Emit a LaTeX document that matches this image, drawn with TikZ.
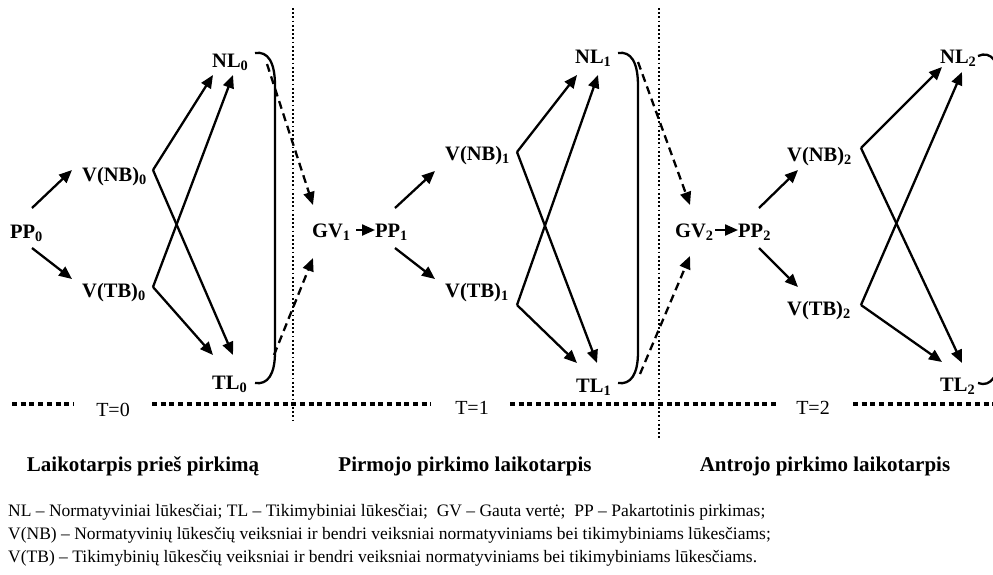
\documentclass[tikz,border=0pt]{standalone}
\usepackage{fontspec}
\setmainfont{Liberation Serif}
\usetikzlibrary{arrows.meta}
\begin{document}
\begin{tikzpicture}[x=1pt,y=-1pt,
  lbl/.style={font=\fontsize{20.5}{24}\selectfont\bfseries, inner sep=0pt, anchor=base west},
  tlbl/.style={font=\fontsize{20}{24}\selectfont, inner sep=0pt, anchor=base},
  captxt/.style={font=\fontsize{21}{25}\selectfont\bfseries, inner sep=0pt, anchor=base},
  leg/.style={font=\fontsize{17.5}{21}\selectfont, inner sep=0pt, anchor=base west},
  arr/.style={line width=2.3pt, -{Triangle[length=13pt,width=11pt]}},
  darr/.style={line width=2.3pt, dash pattern=on 8pt off 5pt, -{Triangle[length=13pt,width=11pt]}},
  brk/.style={line width=2.3pt},
  vdot/.style={line width=1.8pt, dash pattern=on 1.8pt off 2.4pt},
  hdot/.style={line width=4.3pt, dash pattern=on 5pt off 3.7pt},
]
\useasboundingbox (0,0) rectangle (993,574);
\fill[white] (0,0) rectangle (993,574);

% ---- labels
\node[lbl] (pp0)  at (10,238)  {PP\textsubscript{0}};
\node[lbl] (vnb0) at (82,181)  {V(NB)\textsubscript{0}};
\node[lbl] (vtb0) at (82,297)  {V(TB)\textsubscript{0}};
\node[lbl] (nl0)  at (212,67)  {NL\textsubscript{0}};
\node[lbl] (tl0)  at (212,389) {TL\textsubscript{0}};

\node[lbl] (gv1)  at (312,237) {GV\textsubscript{1}};
\node[lbl] (pp1)  at (375,237) {PP\textsubscript{1}};
\node[lbl] (vnb1) at (445,160) {V(NB)\textsubscript{1}};
\node[lbl] (vtb1) at (445,297) {V(TB)\textsubscript{1}};
\node[lbl] (nl1)  at (575,63)  {NL\textsubscript{1}};
\node[lbl] (tl1)  at (576,392) {TL\textsubscript{1}};

\node[lbl] (gv2)  at (675,237) {GV\textsubscript{2}};
\node[lbl] (pp2)  at (738,237) {PP\textsubscript{2}};
\node[lbl] (vnb2) at (787,161) {V(NB)\textsubscript{2}};
\node[lbl] (vtb2) at (787,315) {V(TB)\textsubscript{2}};
\node[lbl] (nl2)  at (940,63)  {NL\textsubscript{2}};
\node[lbl] (tl2)  at (940,391) {TL\textsubscript{2}};

% ---- connector end points
\coordinate (pp0a) at (32,208);  \coordinate (vnb0in) at (72,170);
\coordinate (pp0b) at (32,248);  \coordinate (vtb0in) at (72,279);
\coordinate (vnb0o) at (153,170); \coordinate (vtb0o) at (153,287);
\coordinate (nl0a) at (213,75);  \coordinate (nl0b) at (233,75);
\coordinate (tl0a) at (213,355); \coordinate (tl0b) at (233,355);

\coordinate (gv1o) at (356,230); \coordinate (pp1in) at (375,230);
\coordinate (pp1a) at (395,208); \coordinate (vnb1in) at (435,171);
\coordinate (pp1b) at (395,248); \coordinate (vtb1in) at (435,279);
\coordinate (vnb1o) at (517,152); \coordinate (vtb1o) at (517,305);
\coordinate (nl1a) at (577,75);  \coordinate (nl1b) at (598,75);
\coordinate (tl1a) at (577,363); \coordinate (tl1b) at (597,363);

\coordinate (gv2o) at (715,230); \coordinate (pp2in) at (738,230);
\coordinate (pp2a) at (759,208); \coordinate (vnb2in) at (798,170);
\coordinate (pp2b) at (759,248); \coordinate (vtb2in) at (798,287);
\coordinate (vnb2o) at (861,148); \coordinate (vtb2o) at (861,305);
\coordinate (nl2a) at (942,67);  \coordinate (nl2b) at (962,72);
\coordinate (tl2a) at (942,362); \coordinate (tl2b) at (962,363);

\coordinate (gv1t) at (313,205); \coordinate (gv1b) at (313,258);
\coordinate (gv2t) at (690,205); \coordinate (gv2b) at (690,256);
\coordinate (b0t) at (267,64);   \coordinate (b0b) at (274,355);
\coordinate (b1t) at (638,62);   \coordinate (b1b) at (640,374);

% ---- solid arrows
\draw[arr] (pp0a) -- (vnb0in);
\draw[arr] (pp0b) -- (vtb0in);
\draw[arr] (vnb0o) -- (nl0a);
\draw[arr] (vnb0o) -- (tl0b);
\draw[arr] (vtb0o) -- (nl0b);
\draw[arr] (vtb0o) -- (tl0a);

\draw[arr] (gv1o) -- (pp1in);
\draw[arr] (pp1a) -- (vnb1in);
\draw[arr] (pp1b) -- (vtb1in);
\draw[arr] (vnb1o) -- (nl1a);
\draw[arr] (vnb1o) -- (tl1b);
\draw[arr] (vtb1o) -- (nl1b);
\draw[arr] (vtb1o) -- (tl1a);

\draw[arr] (gv2o) -- (pp2in);
\draw[arr] (pp2a) -- (vnb2in);
\draw[arr] (pp2b) -- (vtb2in);
\draw[arr] (vnb2o) -- (nl2a);
\draw[arr] (vnb2o) -- (tl2b);
\draw[arr] (vtb2o) -- (nl2b);
\draw[arr] (vtb2o) -- (tl2a);

% ---- brackets
\draw[brk] (255,53) .. controls (268,51) and (275,62) .. (275,86) -- (275,352)
           .. controls (275,374) and (268,385) .. (255,383);
\draw[brk] (618,53) .. controls (631,51) and (638,62) .. (638,86) -- (638,352)
           .. controls (638,374) and (631,385) .. (618,383);
\begin{scope}
\clip (0,0) rectangle (993,574);
\draw[brk] (978,56) .. controls (991,50) and (1000,62) .. (1000,86) -- (1000,352)
           .. controls (1000,374) and (991,388) .. (978,383);
\end{scope}

% ---- dashed arrows
\draw[darr] (b0t) -- (gv1t);
\draw[darr] (b0b) -- (gv1b);
\draw[darr] (b1t) -- (gv2t);
\draw[darr] (b1b) -- (gv2b);

% ---- period separators
\draw[vdot] (293,8) -- (293,420);
\draw[vdot] (659,8) -- (659,440);

% ---- time axis
\draw[hdot] (12,404) -- (74,404);
\node[tlbl] (t0) at (113,416) {T=0};
\draw[hdot] (152,404) -- (431,404);
\node[tlbl] (t1) at (472,414) {T=1};
\draw[hdot] (510,404) -- (779,404);
\node[tlbl] (t2) at (813,414) {T=2};
\draw[hdot] (853,404) -- (993,404);

% ---- period captions
\node[captxt] (c0) at (143,471) {Laikotarpis prieš pirkimą};
\node[captxt] (c1) at (465,471) {Pirmojo pirkimo laikotarpis};
\node[captxt] (c2) at (825,471) {Antrojo pirkimo laikotarpis};

% ---- legend
\node[leg] (l1) at (8,516) {NL – Normatyviniai lūkesčiai; TL – Tikimybiniai lūkesčiai;\ \ GV – Gauta vertė;\ \ PP – Pakartotinis pirkimas;};
\node[leg] (l2) at (8,539) {V(NB) – Normatyvinių lūkesčių veiksniai ir bendri veiksniai normatyviniams bei tikimybiniams lūkesčiams;};
\node[leg] (l3) at (8,562) {V(TB) – Tikimybinių lūkesčių veiksniai ir bendri veiksniai normatyviniams bei tikimybiniams lūkesčiams.};
\end{tikzpicture}
\end{document}
